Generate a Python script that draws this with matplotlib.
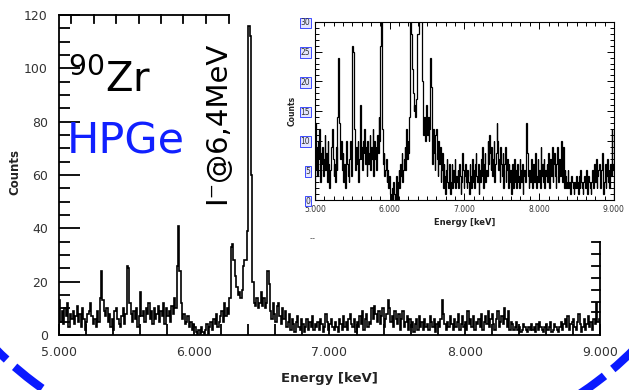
import numpy as np
import matplotlib.pyplot as plt
from matplotlib.patches import Ellipse
from matplotlib.ticker import MultipleLocator, FormatStrFormatter

# spectrum, 0.01 keV bins from 5.000 to 9.000 keV
e_min, e_max, n_bins = 5.0, 9.0, 400
counts = [
    13, 5, 9, 4, 10, 7, 12, 3, 8, 6,      # 5.00
    9, 4, 7, 11, 5, 8, 3, 10, 6, 2,       # 5.10
    5, 8, 9, 12, 7, 4, 6, 3, 9, 5,        # 5.20
    14, 24, 13, 9, 7, 10, 5, 8, 3, 6,     # 5.30
    2, 9, 10, 6, 4, 3, 7, 10, 4, 8,       # 5.40
    26, 25, 12, 8, 5, 9, 6, 10, 3, 7,     # 5.50
    16, 7, 9, 5, 10, 8, 12, 6, 9, 4,      # 5.60
    10, 6, 8, 11, 5, 9, 7, 12, 4, 10,     # 5.70
    7, 9, 5, 11, 8, 14, 10, 26, 41, 24,   # 5.80
    12, 6, 8, 4, 5, 7, 3, 5, 2, 4,        # 5.90
    3, 1, 0, 2, 0, 3, 1, 0, 2, 4,         # 6.00
    0, 3, 5, 2, 6, 4, 8, 3, 5, 7,         # 6.10
    9, 5, 12, 7, 10, 8, 14, 33, 34, 28,   # 6.20
    22, 18, 15, 16, 14, 17, 26, 28, 28, 39,  # 6.30
    116, 112, 60, 20, 12, 11, 14, 10, 12, 16,  # 6.40
    11, 14, 10, 12, 24, 19, 9, 6, 12, 8,  # 6.50
    5, 11, 12, 7, 4, 10, 6, 9, 3, 5,      # 6.60
    8, 2, 6, 4, 1, 5, 7, 3, 2, 6,         # 6.70
    4, 1, 3, 6, 2, 5, 3, 7, 2, 4,         # 6.80
    3, 5, 2, 6, 4, 1, 3, 8, 5, 2,         # 6.90
    4, 6, 3, 2, 5, 3, 1, 6, 4, 2,         # 7.00
    7, 3, 5, 2, 6, 8, 4, 3, 6, 1,         # 7.10
    5, 3, 7, 4, 9, 2, 6, 8, 3, 5,         # 7.20
    4, 10, 6, 11, 8, 5, 9, 4, 7, 10,      # 7.30
    3, 6, 8, 13, 10, 5, 7, 3, 9, 6,       # 7.40
    4, 8, 2, 6, 9, 3, 5, 7, 2, 6,         # 7.50
    3, 5, 1, 4, 6, 2, 7, 3, 5, 2,         # 7.60
    6, 3, 4, 2, 7, 5, 3, 6, 1, 4,         # 7.70
    5, 3, 6, 13, 8, 4, 2, 5, 3, 7,        # 7.80
    4, 2, 6, 3, 5, 8, 2, 4, 7, 3,         # 7.90
    5, 2, 9, 4, 6, 3, 7, 2, 5, 4,         # 8.00
    6, 3, 8, 2, 5, 7, 4, 9, 3, 6,         # 8.10
    8, 4, 2, 6, 9, 3, 5, 7, 4, 10,        # 8.20
    6, 3, 9, 2, 5, 4, 2, 3, 5, 2,         # 8.30
    3, 1, 2, 4, 3, 2, 1, 3, 2, 4,         # 8.40
    2, 3, 1, 4, 2, 5, 3, 2, 1, 3,         # 8.50
    4, 2, 3, 5, 1, 2, 4, 3, 2, 1,         # 8.60
    3, 5, 2, 4, 6, 3, 7, 2, 4, 5,         # 8.70
    6, 3, 2, 5, 8, 4, 1, 3, 6, 2,         # 8.80
    4, 7, 3, 5, 2, 6, 4, 12, 5, 6,        # 8.90
]
edges = np.linspace(e_min, e_max, n_bins + 1)

x_ticks = [5.0, 6.0, 7.0, 8.0, 9.0]
y_ticks_inset = [0, 5, 10, 15, 20, 25, 30]

lab_col = '#333333'

fig = plt.figure(figsize=(6.29, 3.90), dpi=100)

# main spectrum
ax = fig.add_axes([0.0938, 0.141, 0.860, 0.8205])
ax.stairs(counts, edges, color='black', lw=1.2)
ax.set_xlim(e_min, e_max)
ax.set_ylim(0, 120)
for s in ['top', 'right']:
    ax.spines[s].set_visible(False)
for s in ['left', 'bottom']:
    ax.spines[s].set_linewidth(1.3)
ax.xaxis.set_major_locator(MultipleLocator(1.0))
ax.xaxis.set_minor_locator(MultipleLocator(0.2))
ax.xaxis.set_major_formatter(FormatStrFormatter('%.3f'))
ax.yaxis.set_major_locator(MultipleLocator(20))
ax.yaxis.set_minor_locator(MultipleLocator(5))
ax.tick_params(axis='x', which='both', direction='in', length=8, width=1.3,
               labelsize=9, labelcolor=lab_col, pad=8)
ax.tick_params(axis='y', which='major', direction='in', length=15, width=1.3,
               labelsize=9, labelcolor=lab_col, pad=8)
ax.tick_params(axis='y', which='minor', direction='in', length=8, width=1.3)
ax.set_xlabel('Energy [keV]', fontsize=9.5, fontweight='bold', color='#222222')
ax.xaxis.set_label_coords(0.5, -0.115)

# partial top frame with its ticks
ax.plot([5.0, 6.26], [120, 120], color='black', lw=1.3, clip_on=False)
for t in [5.089, 5.259, 5.422, 5.593, 5.756, 5.919, 6.089, 6.259]:
    ax.plot([t, t], [120, 117], color='black', lw=1.3, clip_on=False)
# partial right frame with its ticks
ax.plot([9.0, 9.0], [0, 35], color='black', lw=1.3, clip_on=False)
for t in [8.7, 12.5, 17.0, 21.5, 26.0, 30.5, 35.0]:
    ax.plot([8.94, 9.0], [t, t], color='black', lw=1.3, clip_on=False)

fig.text(0.024, 0.56, 'Counts', rotation=90, fontsize=8.5, fontweight='bold',
         color='#222222', ha='center', va='center')

# annotations
ax.text(5.07, 91, r'$^{90}$Zr', fontsize=29, color='black', ha='left', va='baseline')
ax.text(5.06, 68, 'HPGe', fontsize=31, color='#1020ff', ha='left', va='baseline')
ax.text(6.17, 49, 'I\u207b@6,4MeV', fontsize=21, rotation=90, color='black',
        ha='center', va='bottom')

# inset
axi = fig.add_axes([0.5008, 0.487, 0.4752, 0.4566])
axi.stairs(counts, edges, color='black', lw=0.9)
axi.set_xlim(e_min, e_max)
axi.set_ylim(0, 30)
for s in axi.spines.values():
    s.set_linewidth(0.8)
axi.set_xticks(x_ticks)
axi.xaxis.set_minor_locator(MultipleLocator(0.125))
axi.xaxis.set_major_formatter(FormatStrFormatter('%.3f'))
axi.set_yticks(y_ticks_inset)
axi.yaxis.set_minor_locator(MultipleLocator(1))
axi.tick_params(which='both', direction='in', top=True, right=True, width=0.7)
axi.tick_params(which='major', length=5, labelsize=5.5, labelcolor=lab_col)
axi.tick_params(which='minor', length=3)
for lab in axi.get_yticklabels():
    lab.set_bbox(dict(boxstyle='square,pad=0.1', fc='#e4e6ff', ec='#2030ff', lw=0.6))
axi.set_xlabel('Energy [keV]', fontsize=6, fontweight='bold', color='#222222', labelpad=3)
axi.set_ylabel('Counts', fontsize=5.5, fontweight='bold', color='#222222', labelpad=3)
fig.text(0.492, 0.383, '--', fontsize=6, color='#555555')

# blue dashed ellipse around the figure
ell = Ellipse((0.5008, 0.564), 1.2655, 1.538, transform=fig.transFigure,
              fill=False, ec='#0a1aff', lw=6, linestyle=(0, (4.2, 1.3)),
              clip_on=False)
fig.patches.append(ell)

fig.savefig('out.png', dpi=100)
